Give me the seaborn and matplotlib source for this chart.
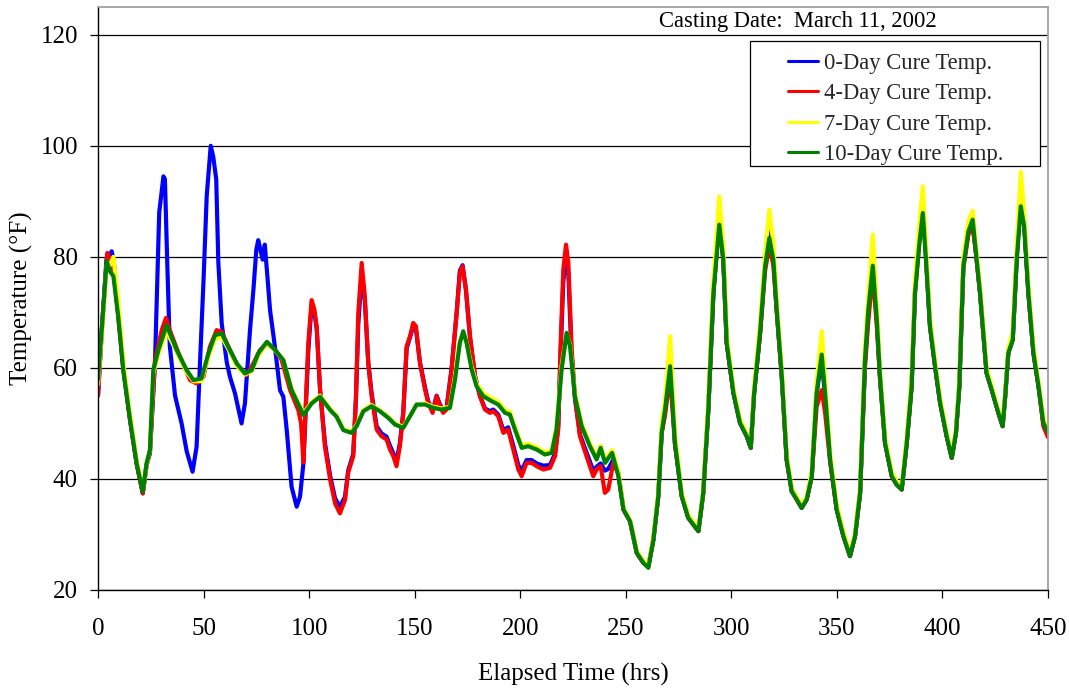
import numpy as np
import pandas as pd
import matplotlib
matplotlib.use("Agg")
import matplotlib.pyplot as plt
from matplotlib.patches import Rectangle
import seaborn as sns

# ---------------- data ----------------
series_names = ["0-Day Cure Temp.", "4-Day Cure Temp.", "7-Day Cure Temp.", "10-Day Cure Temp."]
series_colors = ["#0000ff", "#ff0000", "#ffff00", "#008000"]

# early segment, 0-Day
hours_0day_early = [0, 2, 4, 6.5, 7.5, 9.6, 12, 15.2, 18.3, 21.2,
                    23, 24.6, 27, 29, 31, 31.7, 32.8, 34, 36.5, 39.6,
                    42, 44.8, 46.7, 48.3, 50, 51.5, 53.4, 54.6, 56, 57,
                    58.6, 61, 62.5, 64.9, 68, 69.6, 72, 73.6, 75, 75.9,
                    77, 78, 79, 80, 81.5, 83.8, 86.2, 87.8, 89.4, 91.7,
                    94.1, 95.7]
temp_0day_early = [55, 68, 79.5, 81, 79, 70, 60, 50.6, 42.8, 37.4,
                   42.5, 44.6, 61, 88, 94.5, 94, 79, 64, 55, 50,
                   45, 41.3, 45.8, 60.8, 75.9, 91, 100, 98, 94, 79,
                   68, 61, 58.4, 55.4, 50, 53.6, 66.8, 74, 81.3, 83,
                   81.2, 79.5, 82.2, 77.6, 70.4, 63.8, 56, 54.8, 48.8, 38.6,
                   35, 36.8]

# early segment, 4-Day
hours_4day_early = [0, 2, 4.4, 6, 7.5, 9.6, 12, 15.2, 18.3, 21.2,
                    23, 24.6, 27, 30.2, 32.2, 34, 38.8, 43.6, 46.7, 50,
                    53, 56.2, 58.6, 62.5, 66.5, 70.4, 73.6, 76.7, 80, 84,
                    87, 91, 94.9, 96.2]
temp_4day_early = [55, 68, 80.7, 79.5, 77, 69.2, 59.6, 50.6, 42.8, 37.4,
                   42.5, 45, 61.4, 66.8, 69, 66.8, 62, 57.8, 57.2, 58.4,
                   63.8, 66.8, 66.5, 63.2, 60.2, 58.7, 60.8, 63.2, 64.4, 63.2,
                   61.4, 56, 52.4, 50]

# middle segment shared by 0-Day and 4-Day
hours_mid_a = [97.3, 99.6, 101.2, 102.5, 103.6, 105.2, 107.5, 110, 112.3, 114.6,
               117, 118.5, 120.9, 122.2, 123.3, 124.9, 126.4, 128, 129.6, 132,
               134.3, 136.7, 138.3, 139.9, 141.4, 143, 144.6, 146.2, 147.8, 149.3,
               150.6, 152.5, 154.9, 156.4, 158.5, 160.4, 162, 163.5, 165.1, 167.5,
               169.9, 171.4, 172.7, 174.3, 176.2, 178.6, 180.9, 183.3, 185.7, 187.2,
               189.6, 192, 194.3, 196.7, 199.1, 200.7, 203, 205.4, 207.8, 210.9,
               214.1, 216.5, 218, 219.1, 220.4, 221.7, 222.8, 224.3, 225.9, 228.3,
               231.4, 234.6, 236.2, 238.1, 240.1, 241.7, 244.1, 246.5]
temp_0day_mid = [42.8, 63, 71.5, 70, 67, 56, 46.5, 40.5, 36.5, 35,
                 36.8, 41.5, 44.5, 54.5, 68, 76.5, 72, 61, 55.5, 49.5,
                 48.2, 47.6, 46, 44.6, 43.2, 46.5, 52, 63.5, 65.5, 67.5,
                 67, 61, 56.5, 54, 52.3, 55, 53.4, 52.3, 52.8, 60,
                 70, 77.5, 78.5, 74, 65.5, 58.5, 55, 52.7, 52.2, 52.5,
                 51.6, 48.8, 49.3, 46, 42.5, 41.5, 43.4, 43.4, 42.8, 42.4,
                 42.5, 44.6, 49.5, 62, 75.5, 80, 77, 62.5, 54.5, 48,
                 44.8, 41.5, 42.2, 42.8, 41.5, 41.8, 43.5, 41]
temp_4day_mid = [43, 64.4, 72.2, 70.5, 67.4, 56, 45.8, 39.8, 35.6, 33.8,
                 36.2, 41.1, 44.1, 54.9, 69.9, 78.9, 72.9, 60.9, 54.9, 48.9,
                 47.7, 47.1, 45.3, 44.1, 42.3, 45.9, 51.9, 63.9, 65.7, 68.1,
                 67.5, 60.9, 56.1, 53.7, 51.9, 54.9, 53.1, 51.9, 52.5, 59.7,
                 69.9, 77.1, 78.3, 74.1, 65.7, 58.5, 54.9, 52.5, 51.9, 52.2,
                 51.3, 48.3, 48.9, 45.3, 41.7, 40.5, 42.9, 42.9, 42.3, 41.7,
                 42, 44.1, 48.9, 63.9, 77.7, 82.2, 78.9, 63.9, 54.9, 47.7,
                 44.1, 40.5, 41.7, 42.3, 37.5, 38.1, 42.9, 41]

# early + middle segment shared by 7-Day and 10-Day
hours_mid_b = [0, 2, 4.1, 5.7, 7.3, 9.6, 12, 15.2, 18.3, 21.2,
               23, 24.6, 26.2, 28.6, 32.5, 37.3, 42, 45.2, 49, 52.3,
               55.4, 58.6, 61.7, 65.7, 69.6, 72.8, 75.9, 80, 84, 87.8,
               91.7, 97.3, 101.2, 105.2, 110, 113, 116.2, 120.1, 122.5, 125.7,
               129.6, 133.5, 137.5, 140.7, 144.6, 147.8, 150.9, 154.9, 158.8, 162.8,
               166.7, 169.1, 171.4, 173, 174.6, 177, 179.3, 182.5, 186.5, 189.6,
               192.8, 195.1, 197.5, 200.7, 203.8, 207.8, 211.7, 214.9, 217.2, 219.6,
               222, 223.6, 225.9, 229.1, 233, 236.2, 238.1, 240.2, 243.5, 246.5]
temp_7day_mid = [57, 67, 78.4, 78.5, 80, 72, 61, 51.5, 43.4, 38,
                 42.5, 45.2, 59, 62.5, 66.6, 62.8, 59.2, 57.6, 57.6, 62,
                 65.2, 65.6, 63.4, 60.4, 58.8, 59.4, 62.2, 64.4, 63.1, 61.4,
                 56.2, 51.8, 53.8, 55, 52.6, 51.4, 49, 48.5, 49.7, 52.4,
                 53.3, 52.4, 51.2, 50, 49.4, 51.4, 53.3, 53.6, 53, 52.7,
                 53, 58.4, 64.8, 66.3, 64.6, 60.2, 57.2, 55.4, 54.5, 53.9,
                 52.4, 52.1, 49.4, 46.1, 46.3, 45.7, 44.8, 45.1, 49.4, 60.4,
                 66.2, 64.2, 55.4, 50, 46.4, 44, 46, 43.4, 45.2, 41.4]
temp_10day_mid = [58, 68, 79.2, 77.4, 76.5, 69.2, 59.6, 50.6, 42.8, 37.7,
                  42.8, 45.2, 59.6, 63.2, 67.7, 63.2, 59.6, 57.8, 58.1, 62.6,
                  65.9, 66.2, 63.8, 60.8, 59, 59.6, 62.6, 64.7, 63.2, 61.4,
                  56, 51.5, 53.6, 54.8, 52.4, 51.2, 48.8, 48.3, 49.5, 52.2,
                  53.1, 52.2, 51, 49.8, 49.2, 51.3, 53.4, 53.4, 52.8, 52.5,
                  52.8, 57.9, 64.5, 66.6, 64.5, 59.7, 56.7, 54.9, 54, 53.4,
                  51.9, 51.6, 48.9, 45.6, 45.9, 45.3, 44.4, 44.7, 48.9, 59.7,
                  66.3, 63.9, 54.9, 49.5, 45.9, 43.5, 45.6, 42.9, 44.7, 40.5]

# late segment shared by all series
hours_late = [248.9, 252, 255.2, 258.3, 260.7, 263.1, 265.4, 267, 268.6, 271,
              273.3, 276.5, 279.6, 284.4, 286.7, 289.1, 291.5, 294.3, 296.2, 297.8,
              301, 304.1, 307.3, 309.2, 310.8, 313.6, 316, 318, 319.9, 321.5,
              323.9, 326.2, 328.6, 331, 333.3, 335.7, 338.1, 340.4, 342.8, 344.4,
              346.8, 349.9, 353.1, 356.2, 358.6, 361, 363.3, 364.9, 367, 368.9,
              370.4, 372.8, 376, 378.3, 380.7, 383.1, 385.4, 387, 389.1, 390.7,
              392.2, 394.1, 396.5, 398.9, 402, 404.4, 406.4, 408, 409.9, 412.3,
              414.3, 415.9, 417.8, 420.9, 423.3, 426.5, 428.5, 429.6, 431.2, 433.3,
              435.2, 437.1, 438.7, 440.7, 443.1, 445.5, 447.8, 450]
temp_0day_late = [34.5, 32.4, 26.7, 24.9, 24.3, 29.1, 36.9, 48.3, 52, 62.5,
                  46.3, 36.9, 33, 30.6, 37.5, 52.5, 73.5, 87.5, 79.5, 64.5,
                  55.5, 50.1, 47.7, 45.6, 55.5, 66.3, 79, 85.5, 80, 70.5,
                  58.5, 43.5, 37.8, 36.3, 34.8, 36.3, 40.5, 55.5, 61.5, 55,
                  43.5, 34.5, 29.7, 26.1, 29.7, 37.5, 61, 70, 80.5, 69,
                  58.5, 46.5, 40.5, 39, 38.1, 46.5, 56.7, 74, 84, 90,
                  80, 67.5, 60.3, 53.7, 47.7, 43.8, 48.3, 56.7, 78.3, 84.6,
                  86, 80.7, 73.5, 59.1, 56.1, 51.9, 49.5, 54.3, 62.7, 65.1,
                  80, 91, 86, 73.5, 62.7, 56.7, 50, 48]
temp_4day_late = [34.5, 32.4, 26.7, 24.9, 24.3, 29.1, 36.9, 48.3, 51.5, 58.5,
                  46.3, 36.9, 33, 30.6, 37.5, 52.5, 73.5, 86.5, 79.5, 64.5,
                  55.5, 50.1, 47.7, 45.6, 55.5, 66, 77.5, 82, 78.5, 70,
                  58.3, 43.5, 37.8, 36.3, 34.8, 36.3, 40.5, 53, 56, 52,
                  43, 34.5, 29.7, 26.1, 29.7, 37.5, 60, 68.5, 77, 67.5,
                  58, 46.5, 40.5, 39, 38.1, 46.5, 56.7, 73.5, 83, 89,
                  80, 67.5, 60.3, 53.7, 47.7, 43.8, 48.3, 56.7, 78, 84,
                  85.5, 80.5, 73.5, 59.1, 56.1, 51.9, 49.5, 54.3, 62.7, 65.1,
                  80, 91.5, 86.5, 73.5, 62.7, 56.7, 49.5, 47.5]
temp_7day_late = [34.8, 32.6, 27, 25.2, 24.5, 29.6, 37.5, 50, 54, 65.7,
                  48, 37.5, 33.5, 31, 38, 54, 76, 90.9, 82, 66,
                  56.2, 50.8, 48.2, 46, 56.5, 68, 80.5, 88.5, 82.5, 72,
                  59.5, 44.5, 38.3, 36.8, 35.2, 36.8, 41.5, 57.5, 66.6, 58,
                  44.5, 35.5, 30.5, 26.6, 30.2, 38.5, 63.5, 73, 84, 71,
                  59.5, 47.5, 41.2, 39.6, 38.6, 47.5, 58.5, 76, 86, 92.7,
                  82, 69, 61.2, 54.5, 48.4, 44.3, 49, 58, 80, 86.5,
                  88.3, 82, 74.5, 60, 56.8, 52.5, 50, 55, 63.5, 66.5,
                  82, 95.3, 88, 75, 63.8, 57.5, 50.8, 48.8]
temp_10day_late = [34.5, 32.4, 26.7, 24.9, 24, 29.1, 36.9, 48.3, 52.5, 60.3,
                   46.5, 36.9, 33, 30.6, 37.5, 52.5, 73.5, 85.8, 79.5, 64.5,
                   55.5, 50.1, 47.7, 45.6, 55.5, 66.3, 78.3, 83.4, 79.5, 70.5,
                   58.5, 43.5, 37.8, 36.3, 34.8, 36.3, 40.5, 55.5, 62.4, 55.5,
                   43.5, 34.5, 29.7, 26.1, 29.7, 37.5, 61.5, 70.5, 78.4, 68.7,
                   58.5, 46.5, 40.5, 39, 38.1, 46.5, 56.7, 73.5, 82.5, 87.9,
                   79.5, 67.5, 60.3, 53.7, 47.7, 43.8, 48.3, 56.7, 78.3, 84.6,
                   86.7, 80.7, 73.5, 59.1, 56.1, 51.9, 49.5, 54.3, 62.7, 65.1,
                   79.5, 89.1, 85.5, 73.5, 62.7, 56.7, 50.1, 48.3]

x_ticks = [0, 50, 100, 150, 200, 250, 300, 350, 400, 450]
y_ticks = [20, 40, 60, 80, 100, 120]

# ---------------- build long table ----------------
series_hours = [
    hours_0day_early + hours_mid_a + hours_late,
    hours_4day_early + hours_mid_a + hours_late,
    hours_mid_b + hours_late,
    hours_mid_b + hours_late,
]
series_temps = [
    temp_0day_early + temp_0day_mid + temp_0day_late,
    temp_4day_early + temp_4day_mid + temp_4day_late,
    temp_7day_mid + temp_7day_late,
    temp_10day_mid + temp_10day_late,
]
frames = []
for name, hrs, tmp in zip(series_names, series_hours, series_temps):
    frames.append(pd.DataFrame({"hours": hrs, "temp": tmp, "series": name}))
df = pd.concat(frames, ignore_index=True)

# ---------------- plot ----------------
sns.set_style("white")
plt.rcParams["font.family"] = ["Liberation Serif", "DejaVu Serif"]

fig = plt.figure(figsize=(10.69, 6.89), dpi=100)
ax = fig.add_axes([98 / 1069, 1 - 590 / 689, 950 / 1069, 583 / 689])

sns.lineplot(data=df, x="hours", y="temp", hue="series", hue_order=series_names,
             palette=series_colors, sort=False, estimator=None, linewidth=3.0,
             ax=ax, legend=True, zorder=2)

ax.set_xlim(0, 450)
ax.set_ylim(20, 125)
ax.set_xticks(x_ticks)
ax.set_yticks(y_ticks)
ax.yaxis.grid(True, color="black", linewidth=0.9, zorder=1)
ax.xaxis.grid(False)
ax.set_axisbelow(True)

for side in ["left", "bottom"]:
    ax.spines[side].set_color("black")
    ax.spines[side].set_linewidth(1.0)
for side in ["top", "right"]:
    ax.spines[side].set_color("#a0a0a0")
    ax.spines[side].set_linewidth(1.3)

ax.tick_params(axis="both", direction="out", length=6, width=0.9, color="black",
               labelsize=18, labelcolor="black")
ax.tick_params(axis="x", pad=14.5)
ax.tick_params(axis="y", pad=8.5)
ax.tick_params(left=True, bottom=True)

ax.set_xlabel("Elapsed Time (hrs)", fontsize=18, color="black")
ax.set_ylabel("Temperature (°F)", fontsize=18, color="black")
ax.xaxis.set_label_coords(0.5, -0.125)
ax.yaxis.set_label_coords(-0.068, 0.5)

# casting date note
ax.text(0.883, 0.975, "Casting Date:  March 11, 2002", transform=ax.transAxes,
        ha="right", va="center", fontsize=16.3, color="black")

# legend with an Excel-like box
handles, labels = ax.get_legend_handles_labels()
ax.get_legend().remove()
box = Rectangle((0.686, 0.727), 0.3056, 0.2147, transform=ax.transAxes,
                facecolor="white", edgecolor="black", linewidth=0.9, zorder=4.5)
ax.add_patch(box)
leg = ax.legend(handles, labels, loc="upper left", bbox_to_anchor=(0.7147, 0.941),
                frameon=False, borderpad=0, fontsize=16.3, handlelength=1.3,
                handletextpad=0.27, labelspacing=0.42)
leg.set_zorder(6)
for ln in leg.get_lines():
    ln.set_linewidth(2.2)

fig.savefig("out.png", dpi=100)
